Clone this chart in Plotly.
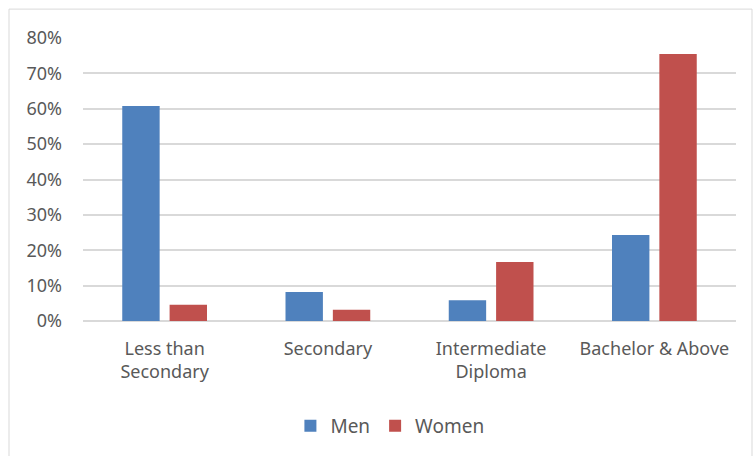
import plotly.graph_objects as go

categories = ["Less than<br>Secondary", "Secondary", "Intermediate<br>Diploma", "Bachelor & Above"]
men = [0.608, 0.082, 0.059, 0.243]
women = [0.046, 0.032, 0.167, 0.755]
tick_vals = [0, 0.1, 0.2, 0.3, 0.4, 0.5, 0.6, 0.7, 0.8]

W, H = 754, 456
ML, MR, MT, MB = 83, 18, 38, 134
pw, ph = W - ML - MR, H - MT - MB

font = dict(family="Noto Sans, Open Sans, sans-serif", size=18, color="#595959")

fig = go.Figure()
fig.add_trace(go.Bar(name="Men", x=categories, y=men, marker=dict(color="#4F81BD", line=dict(width=0))))
fig.add_trace(go.Bar(name="Women", x=categories, y=women, marker=dict(color="#C0504D", line=dict(width=0))))

fig.update_layout(
    width=W, height=H,
    margin=dict(l=ML, r=MR, t=MT, b=MB),
    paper_bgcolor="white", plot_bgcolor="white",
    barmode="group", bargap=0.42, bargroupgap=0.21,
    font=font,
    showlegend=True,
    legend=dict(orientation="h", x=0.47, xanchor="center", y=(322 - 426) / ph, yanchor="middle",
                font=dict(size=19, color="#595959"), itemwidth=30, traceorder="normal"),
    xaxis=dict(showgrid=False, showline=False, ticks="", tickfont=dict(size=18, color="#595959"),
               ticklabelstandoff=15),
    yaxis=dict(range=[0, 0.8], tickvals=tick_vals, tickformat=".0%", showgrid=True,
               gridcolor="#D9D9D9", gridwidth=1.5, zeroline=True, zerolinecolor="#D9D9D9",
               zerolinewidth=1.5, showline=False, ticks="", ticklabelstandoff=20,
               tickfont=dict(size=18, color="#595959")),
    shapes=[dict(type="rect", xref="paper", yref="paper",
                 x0=(9 - ML) / pw, x1=(752 - ML) / pw, y0=(322 - 470) / ph, y1=(322 - 9) / ph,
                 line=dict(color="#D9D9D9", width=1), fillcolor="rgba(0,0,0,0)", layer="below")],
)

fig.write_html("out.html")
